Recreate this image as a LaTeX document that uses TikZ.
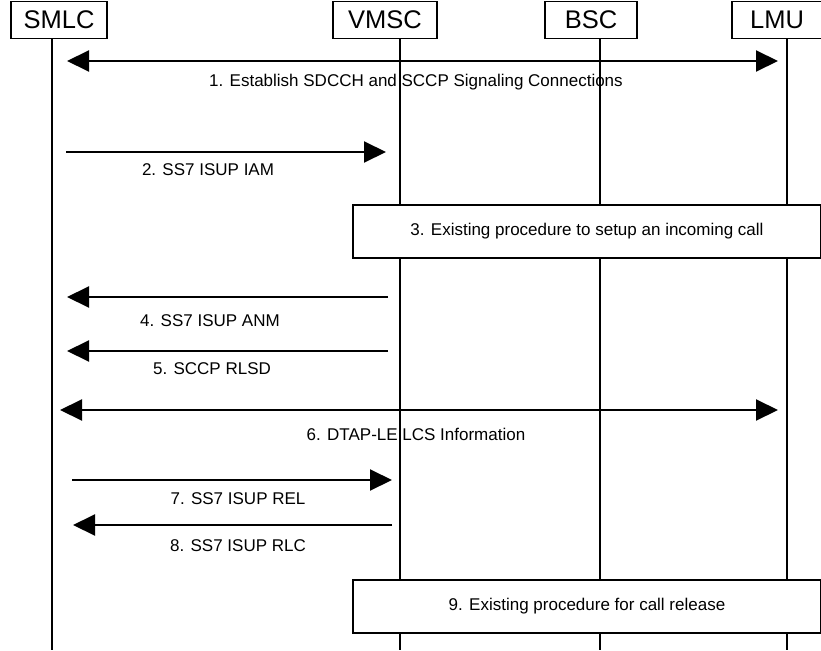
\documentclass[tikz,border=0pt]{standalone}
\usepackage{fontspec}
\setmainfont{Liberation Sans}
\usepackage{tikz}
\usetikzlibrary{arrows.meta, positioning}
\tikzstyle{msg}=[-{Triangle[length=22pt,width=21pt]}, line width=2pt, color=black]
\tikzstyle{dmsg}=[{Triangle[length=22pt,width=21pt]}-{Triangle[length=22pt,width=21pt]}, line width=2pt, color=black]
\tikzstyle{lifeline}=[line width=2pt, color=black]

\begin{document}
\begin{tikzpicture}[x=1pt, y=-1pt,
  entity/.style={rectangle, draw=black, line width=1.6pt, fill=white,
                 minimum height=37pt, inner sep=0pt,
                 font=\fontsize{25.5}{28}\selectfont},
  procbox/.style={rectangle, draw=black, line width=2pt, fill=white,
                  minimum height=53pt, minimum width=468pt, inner sep=0pt,
                  font=\fontsize{17}{20}\selectfont},
  msglabel/.style={font=\fontsize{17}{20}\selectfont, inner sep=1pt}
]
\useasboundingbox (0,0) rectangle (821,650);

% entities
\node[entity, minimum width=96pt] (smlc) at (59,20)  {SMLC};
\node[entity, minimum width=104pt] (vmsc) at (385,20) {VMSC};
\node[entity, minimum width=92pt] (bsc)  at (591,20) {BSC};
\node[entity, minimum width=90pt] (lmu)  at (777,20) {LMU};

% lifelines
\coordinate (smlcEnd) at (52,650);
\coordinate (vmscEnd) at (400,650);
\coordinate (bscEnd)  at (600,650);
\coordinate (lmuEnd)  at (787,650);
\draw[lifeline] (smlcEnd |- smlc.south) -- (smlcEnd);
\draw[lifeline] (vmscEnd |- vmsc.south) -- (vmscEnd);
\draw[lifeline] (bscEnd |- bsc.south)   -- (bscEnd);
\draw[lifeline] (lmuEnd |- lmu.south)   -- (lmuEnd);

% message end points
\coordinate (m1a) at (67,61);  \coordinate (m1b) at (778,61);
\coordinate (m2a) at (66,152); \coordinate (m2b) at (386,152);
\coordinate (m4a) at (388,297); \coordinate (m4b) at (67,297);
\coordinate (m5a) at (388,351); \coordinate (m5b) at (67,351);
\coordinate (m6a) at (60,410);  \coordinate (m6b) at (778,410);
\coordinate (m7a) at (72,480);  \coordinate (m7b) at (392,480);
\coordinate (m8a) at (392,525); \coordinate (m8b) at (73,525);

% procedures
\node[procbox] (proc3) at (587,231) {3. Existing procedure to setup an incoming call};
\node[procbox] (proc9) at (587,606) {9. Existing procedure for call release};

% messages
\draw[dmsg] (m1a) -- (m1b);
\node[msglabel] (l1) at (416,82) {1. Establish SDCCH and SCCP Signaling Connections};
\draw[msg] (m2a) -- (m2b);
\node[msglabel] (l2) at (208,170) {2. SS7 ISUP IAM};
\draw[msg] (m4a) -- (m4b);
\node[msglabel] (l4) at (210,321) {4. SS7 ISUP ANM};
\draw[msg] (m5a) -- (m5b);
\node[msglabel] (l5) at (212,369) {5. SCCP RLSD};
\draw[dmsg] (m6a) -- (m6b);
\node[msglabel] (l6) at (416,434) {6. DTAP-LE LCS Information};
\draw[msg] (m7a) -- (m7b);
\node[msglabel] (l7) at (238,499) {7. SS7 ISUP REL};
\draw[msg] (m8a) -- (m8b);
\node[msglabel] (l8) at (238,546) {8. SS7 ISUP RLC};
\end{tikzpicture}
\end{document}
